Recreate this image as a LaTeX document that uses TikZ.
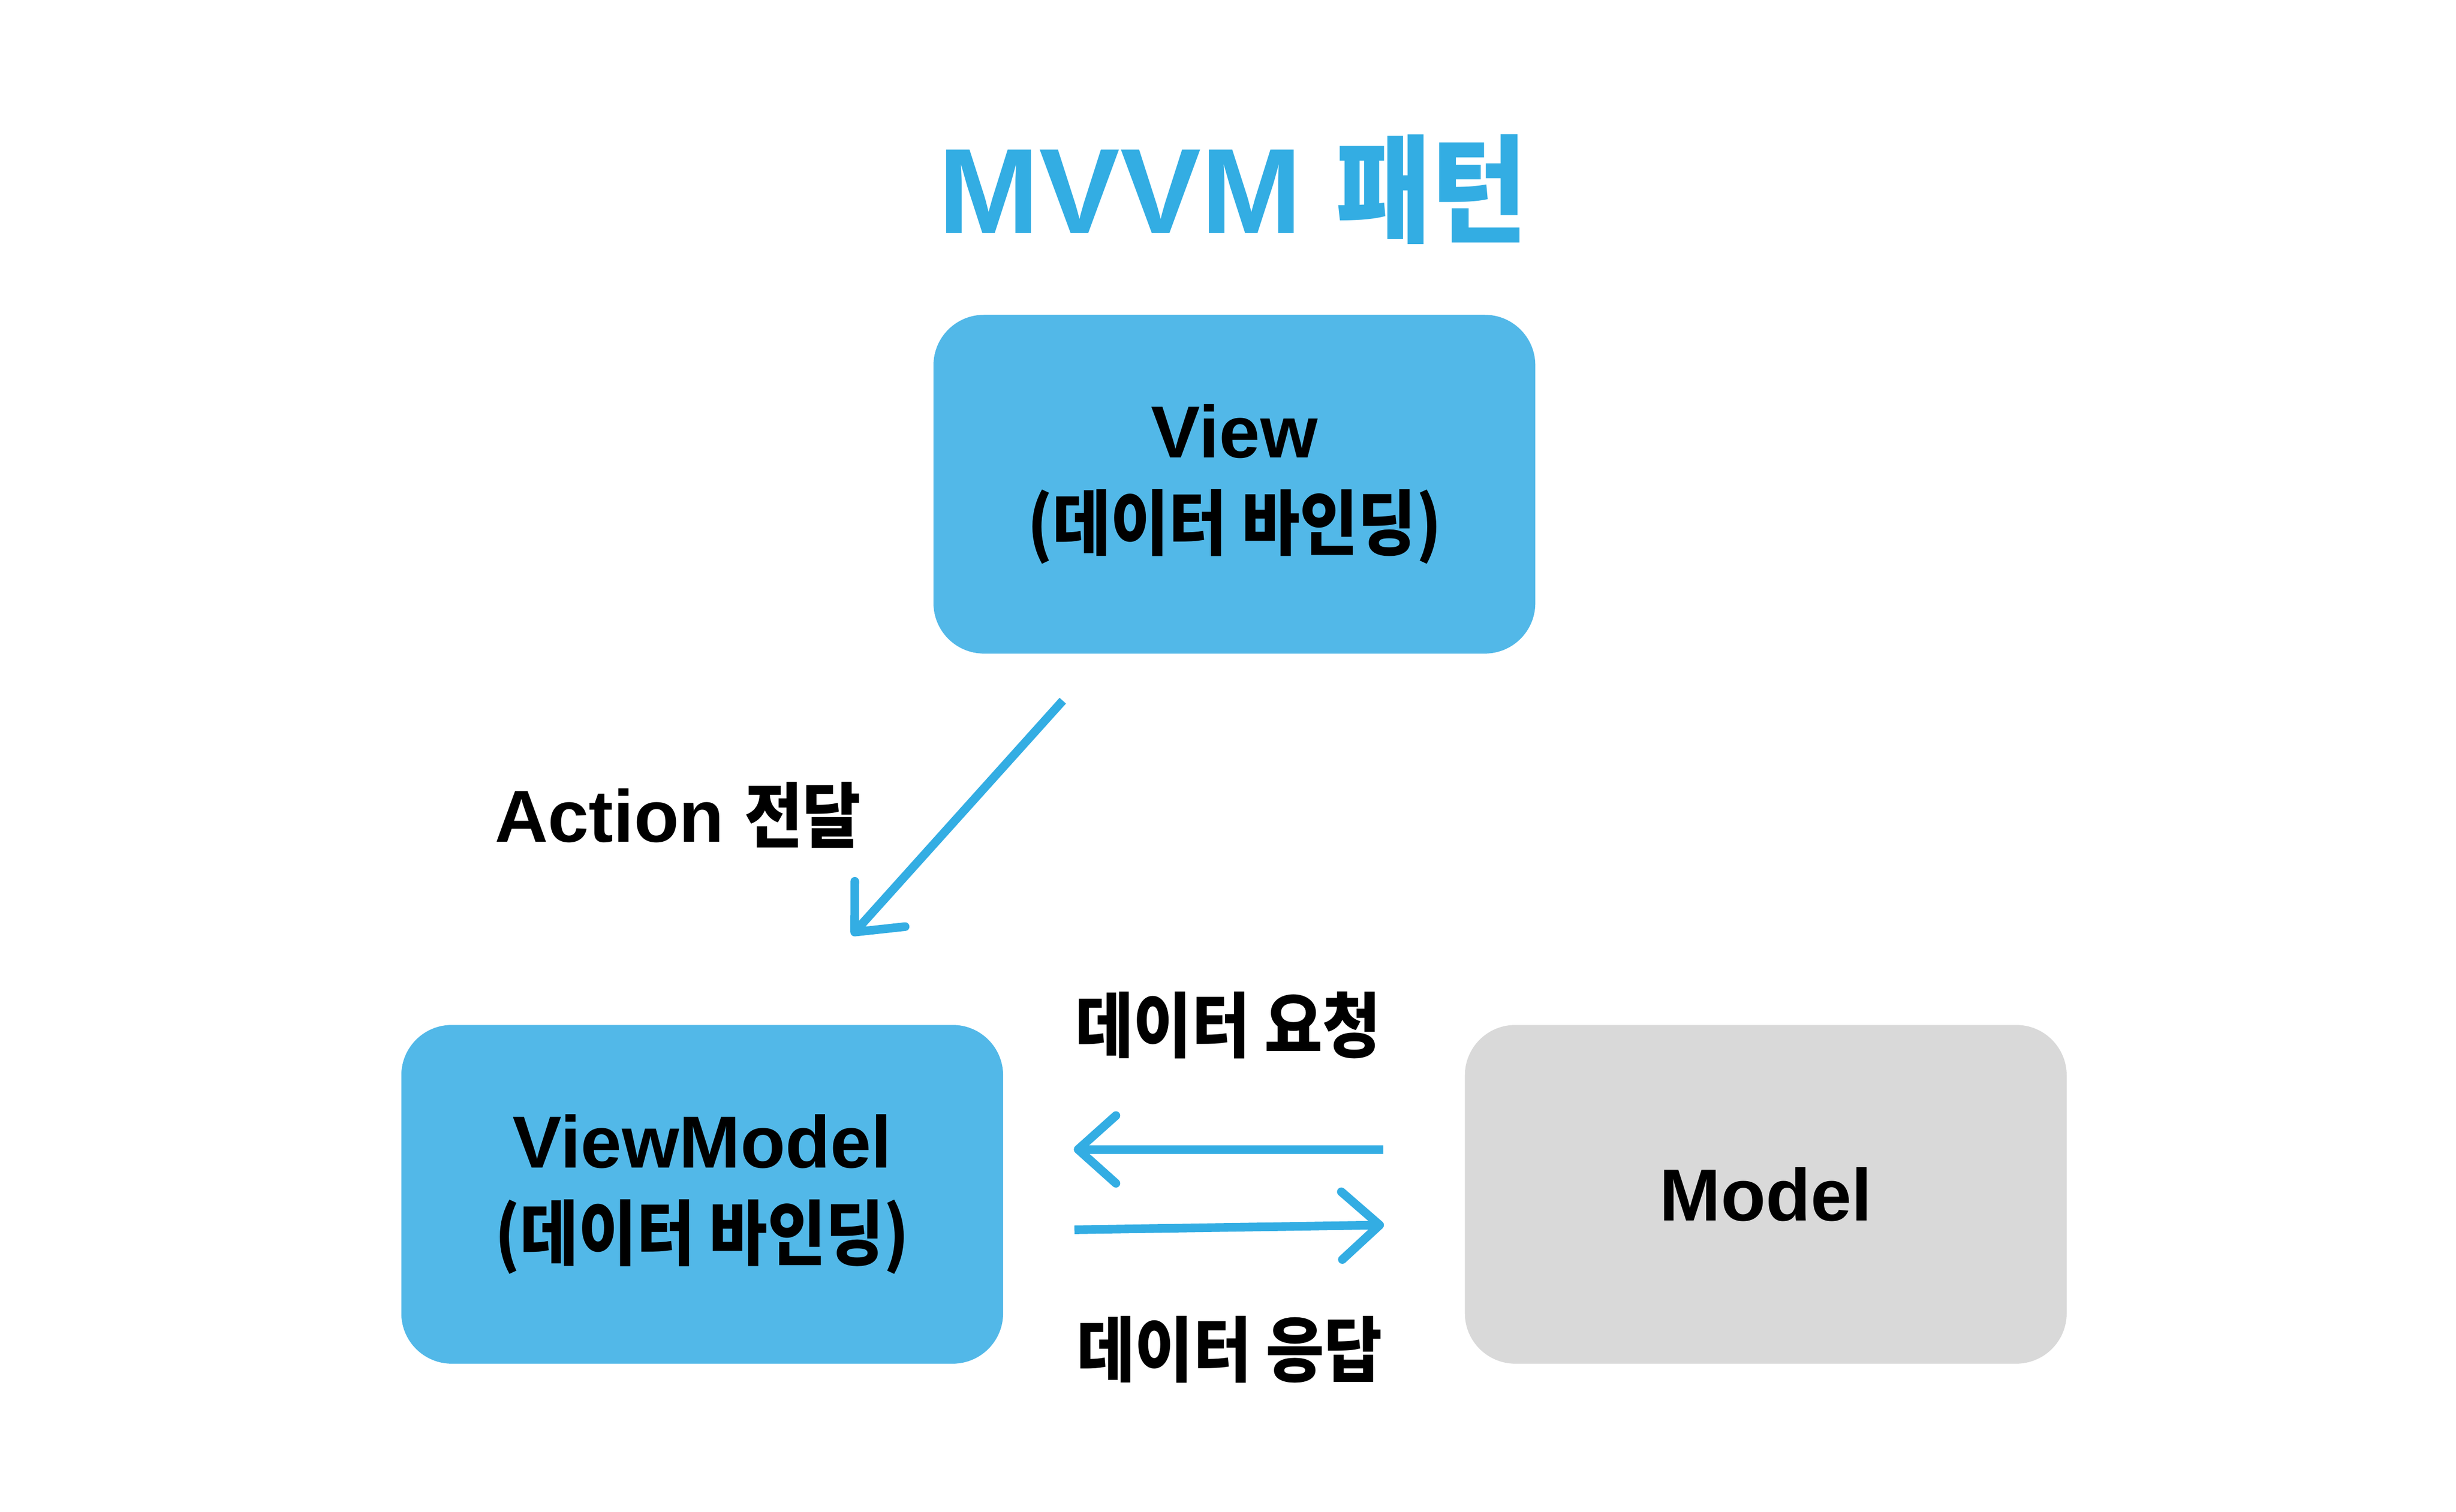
\documentclass[tikz,border=0pt]{standalone}
\usepackage{fontspec}
\setmainfont{Liberation Sans}
\newfontfamily\kr{Noto Sans CJK KR}[Scale=0.965, FakeStretch=0.89]
\usepackage{xcolor}
\usetikzlibrary{arrows.meta}
\definecolor{mvvmblue}{HTML}{33ADE3}
\definecolor{boxblue}{HTML}{52B8E8}
\definecolor{boxgray}{HTML}{D9D9D9}

\begin{document}
\begin{tikzpicture}[x=0.01cm, y=-0.01cm, >={Straight Barb[length=0.24cm, width=0.43cm, round]},
		line width=1.56pt,
		box/.style={rounded corners=0.32cm, minimum width=3.82cm, minimum height=2.15cm,
			inner sep=0pt, align=center, font=\fontsize{13.3}{16.5}\selectfont\bfseries},
		lbl/.style={inner sep=0pt, font=\fontsize{13.3}{16.5}\selectfont\bfseries}]
	\useasboundingbox (0, 0) rectangle (1559.9, 960);

	\node[inner sep=0pt, anchor=base, mvvmblue, font=\fontsize{21.9}{26}\selectfont\bfseries]
		(title) at (783, 148) {MVVM {\kr 패턴}};

	\node[box, fill=boxblue] (view) at (784, 307.5) {View\\{\kr (데이터 바인딩)}};
	\node[box, fill=boxblue] (vm) at (446, 758.5) {ViewModel\\{\kr (데이터 바인딩)}};
	\node[box, fill=boxgray] (model) at (1121.5, 758.5) {Model};

	% arrows
	\coordinate (actS) at (675, 445);
	\coordinate (actE) at (541, 594);
	\coordinate (reqS) at (878.6, 730);
	\coordinate (reqE) at (682, 730);
	\coordinate (resS) at (682.4, 781);
	\coordinate (resE) at (879, 778);

	\draw[->, mvvmblue] (actS) -- (actE);
	\draw[->, mvvmblue] (reqS) -- (reqE);
	\draw[->, mvvmblue] (resS) -- (resE);

	\node[lbl, anchor=base] (action) at (430.5, 534.6) {Action {\kr 전달}};
	\node[lbl] (req) at (780, 651) {\kr 데이터 요청};
	\node[lbl] (res) at (781, 857) {\kr 데이터 응답};
\end{tikzpicture}
\end{document}
